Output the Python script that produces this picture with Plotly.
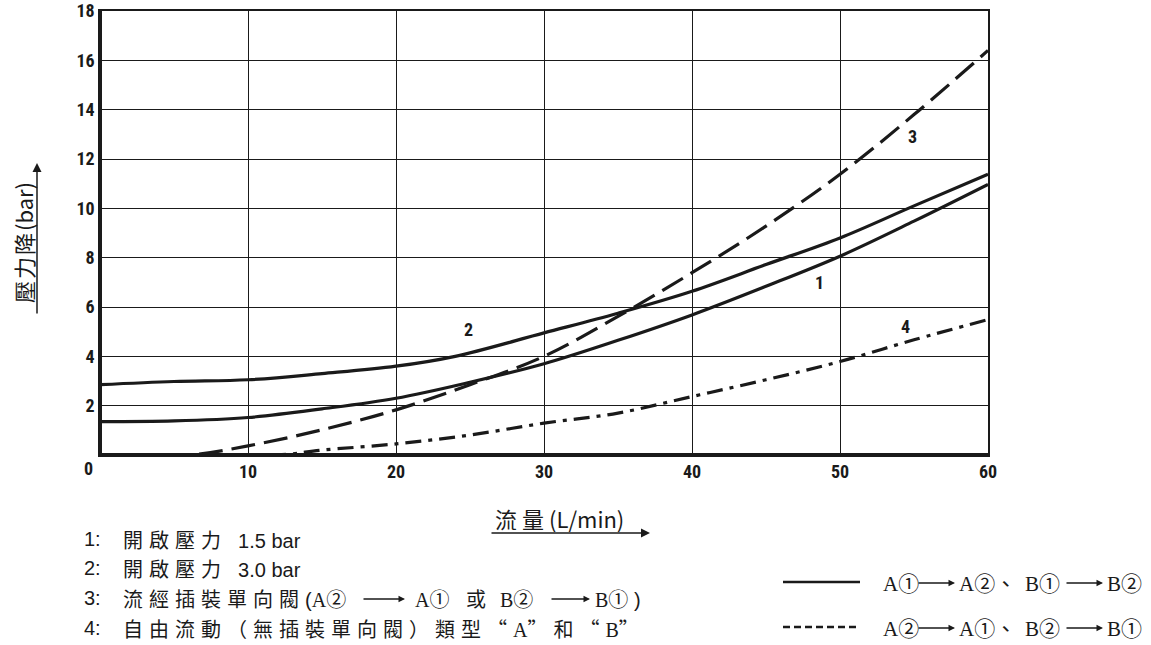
import plotly.graph_objects as go

# ---- data ----
x1 = [0, 5, 10, 15, 20, 25, 30, 35, 40, 45, 50, 55, 60]
y1 = [1.35, 1.38, 1.52, 1.87, 2.3, 2.95, 3.7, 4.65, 5.68, 6.84, 8.06, 9.48, 10.97]

x2 = [0, 5, 10, 15, 20, 24, 30, 35, 40, 45, 50, 55, 60]
y2 = [2.85, 2.98, 3.05, 3.3, 3.6, 4.0, 4.95, 5.75, 6.64, 7.72, 8.8, 10.1, 11.38]

x3 = [0, 6, 10, 15, 20, 25, 30, 35, 40, 45, 50, 55, 60]
y3 = [0, 0, 0.37, 1.02, 1.83, 2.85, 4.0, 5.62, 7.39, 9.28, 11.38, 13.8, 16.4]

x4 = [0, 12, 15, 20, 25, 30, 35, 40, 45, 50, 55, 60]
y4 = [0, 0, 0.2, 0.45, 0.81, 1.29, 1.7, 2.37, 3.05, 3.79, 4.67, 5.49]

curve_labels = ["1", "2", "3", "4"]
label_x = [48.6, 24.9, 54.9, 54.4]
label_y = [7.0, 5.1, 12.9, 5.2]

x_ticks = [10, 20, 30, 40, 50, 60]
y_ticks = [2, 4, 6, 8, 10, 12, 14, 16, 18]


def ser(s):
    return f"<span style='font-family:Liberation Serif'>{s}</span>"


def cj(s, ls=None):
    st = "font-family:Noto Sans CJK TC" + (f";letter-spacing:{ls}px" if ls else "")
    return f"<span style='{st}'>{s}</span>"


note_prefix = ["1:", "2:", "3:", "4:"]
note_body = [
    cj("開啟壓力", 6) + "  1.5 bar",
    cj("開啟壓力", 6) + "  3.0 bar",
    cj("流經插裝單向閥", 6) + "(" + ser("A") + cj("②"),
    cj("自由流動（無插裝單向閥）類型“", 6) + ser("A") + cj("”和“", 6) + ser("B") + cj("”"),
]
# remaining pieces of note 3 (between the arrows): text, x in px, anchor
note3_pieces = [
    (ser("A") + cj("①"), 413, "left"),
    (cj("或"), 476, "center"),
    (ser("B") + cj("②"), 498, "left"),
    (ser("B") + cj("①") + " )", 593, "left"),
]
note3_arrows = [(362, 405), (550, 590)]

legend_pieces = [
    [(ser("A") + cj("①"), 881), (ser("A") + cj("②") + cj("、"), 957), (ser("B") + cj("①"), 1023), (ser("B") + cj("②"), 1105)],
    [(ser("A") + cj("②"), 881), (ser("A") + cj("①") + cj("、"), 957), (ser("B") + cj("②"), 1023), (ser("B") + cj("①"), 1105)],
]
legend_arrows = [(917, 955), (1065, 1103)]

INK = "#1a1a1a"
NARROW = "Liberation Sans Narrow, Roboto Condensed, DejaVu Sans Condensed, Liberation Sans, sans-serif"
CJK = "Noto Sans CJK TC, sans-serif"

W, H = 1151, 645
ML, MT = 100, 11
PW, PH = 888, 444


def px(xp):
    return (xp - ML) / PW


def py(yp):
    return (MT + PH - yp) / PH


def text_arrow(fig, x0, x1, yy):
    fig.add_annotation(x=px(x1), y=py(yy), xref="paper", yref="paper", text="",
                       showarrow=True, arrowhead=2, arrowsize=1.0, arrowwidth=1.3, arrowcolor=INK,
                       ax=-(x1 - x0), ay=0, standoff=0)


fig = go.Figure()
fig.add_trace(go.Scatter(x=x1, y=y1, mode="lines", line=dict(color=INK, width=3.2, shape="spline")))
fig.add_trace(go.Scatter(x=x2, y=y2, mode="lines", line=dict(color=INK, width=3.2, shape="spline")))
fig.add_trace(go.Scatter(x=x3, y=y3, mode="lines", line=dict(color=INK, width=3.2, shape="spline", dash="24px,9px")))
fig.add_trace(go.Scatter(x=x4, y=y4, mode="lines", line=dict(color=INK, width=3.2, shape="spline", dash="16px,7px,4px,7px")))

for t, lx, ly in zip(curve_labels, label_x, label_y):
    fig.add_annotation(x=lx, y=ly, text=t, showarrow=False, xanchor="center", yanchor="middle",
                       font=dict(family=NARROW, size=18, color=INK, weight="bold"))

# thick left and bottom axis lines
fig.add_shape(type="line", xref="x", yref="y", x0=0, x1=0, y0=0, y1=18, line=dict(color=INK, width=4))
fig.add_shape(type="line", xref="x", yref="y", x0=0, x1=60, y0=0, y1=0, line=dict(color=INK, width=4))

# origin label
fig.add_annotation(x=px(88), y=py(468), xref="paper", yref="paper", text="0", showarrow=False,
                   xanchor="center", yanchor="middle",
                   font=dict(family=NARROW, size=18, color=INK, weight="bold"))

# y-axis title with arrow
fig.add_annotation(x=px(23), y=py(243), xref="paper", yref="paper",
                   text=cj("壓力降", 2) + "(bar)", textangle=-90,
                   xanchor="center", yanchor="middle",
                   showarrow=False, font=dict(family=CJK, size=22, color=INK))
fig.add_annotation(x=px(37), y=py(163), xref="paper", yref="paper", text="",
                   showarrow=True, arrowhead=2, arrowsize=1.2, arrowwidth=1.5, arrowcolor=INK,
                   ax=0, ay=152)

# x-axis title with arrow
fig.add_annotation(x=px(559), y=py(518), xref="paper", yref="paper",
                   text=cj("流量", 5) + "(L/min)",
                   xanchor="center", yanchor="middle",
                   showarrow=False, font=dict(family=CJK, size=22, color=INK))
fig.add_annotation(x=px(650), y=py(533), xref="paper", yref="paper", text="",
                   showarrow=True, arrowhead=2, arrowsize=1.2, arrowwidth=1.5, arrowcolor=INK,
                   ax=-160, ay=0)

# notes block
NOTE_FONT = dict(family="Liberation Sans Narrow, Liberation Sans, sans-serif", size=20, color=INK)
note_y = [539, 568, 598, 628]
for pre, t, yy in zip(note_prefix, note_body, note_y):
    fig.add_annotation(x=px(82), y=py(yy), xref="paper", yref="paper", text=pre,
                       xanchor="left", yanchor="middle", showarrow=False, font=NOTE_FONT)
    fig.add_annotation(x=px(121), y=py(yy), xref="paper", yref="paper", text=t,
                       xanchor="left", yanchor="middle", showarrow=False, font=NOTE_FONT)
for t, xx, anc in note3_pieces:
    fig.add_annotation(x=px(xx), y=py(note_y[2]), xref="paper", yref="paper", text=t,
                       xanchor=anc, yanchor="middle", showarrow=False, font=NOTE_FONT)
for a0, a1 in note3_arrows:
    text_arrow(fig, a0, a1, note_y[2] + 1)

# line-style legend
leg_y = [582, 627]
leg_dash = ["solid", "7px,4px"]
for pieces, yy, d in zip(legend_pieces, leg_y, leg_dash):
    fig.add_shape(type="line", xref="paper", yref="paper", x0=px(783), x1=px(860),
                  y0=py(yy), y1=py(yy), line=dict(color=INK, width=2.5, dash=d))
    for t, xx in pieces:
        fig.add_annotation(x=px(xx), y=py(yy), xref="paper", yref="paper", text=t,
                           xanchor="left", yanchor="middle", showarrow=False,
                           font=dict(family="Liberation Serif, serif", size=21, color=INK))
    for a0, a1 in legend_arrows:
        text_arrow(fig, a0, a1, yy + 1)

fig.update_layout(
    width=W, height=H,
    margin=dict(l=ML, r=W - ML - PW, t=MT, b=H - MT - PH, autoexpand=False),
    paper_bgcolor="white", plot_bgcolor="white",
    showlegend=False,
    xaxis=dict(range=[0, 60], tickvals=x_ticks, showgrid=True, gridcolor=INK, gridwidth=1.3,
               zeroline=False, showline=True, linecolor=INK, linewidth=1.5, mirror=True, automargin=False,
               ticks="", ticklabeloverflow="allow",
               tickfont=dict(family=NARROW, size=18, color=INK, weight="bold")),
    yaxis=dict(range=[0, 18], tickvals=y_ticks, showgrid=True, gridcolor=INK, gridwidth=1.3,
               zeroline=False, showline=True, linecolor=INK, linewidth=1.5, mirror=True, automargin=False,
               ticks="", ticklabeloverflow="allow",
               tickfont=dict(family=NARROW, size=18, color=INK, weight="bold")),
)

fig.write_html("out.html", config={"displayModeBar": False},
               post_script="document.body.style.margin='0px';")
